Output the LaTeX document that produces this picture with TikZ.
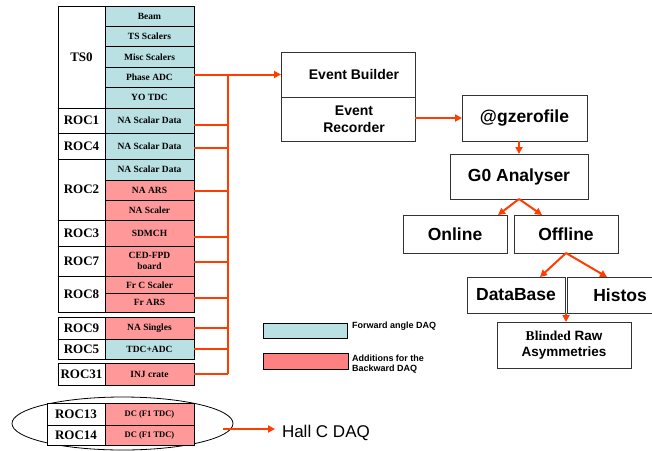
\documentclass[tikz,border=0pt]{standalone}
\usepackage{fontspec}
\setmainfont{Liberation Serif}
\setsansfont{Liberation Sans}
\usetikzlibrary{arrows.meta,shapes.geometric}

\definecolor{fwdcyan}{HTML}{B9E0E3}
\definecolor{bwdred}{HTML}{FF9999}
\definecolor{legred}{HTML}{FF8080}
\definecolor{wirered}{HTML}{FF3D00}

\newcommand\rocfont{\fontsize{13}{15}\selectfont\bfseries}
\newcommand\cellfont{\fontsize{9.5}{11}\selectfont\bfseries}
\newcommand\dcfont{\fontsize{8.5}{10}\selectfont\bfseries}
\newcommand\evfont{\sffamily\fontsize{14}{16.5}\selectfont\bfseries}
\newcommand\blfont{\sffamily\fontsize{13.5}{15.5}\selectfont\bfseries}
\newcommand\bigfont{\sffamily\fontsize{17.5}{20}\selectfont\bfseries}
\newcommand\legfont{\sffamily\fontsize{9}{10}\selectfont\bfseries}
% pushes a centred line a little to the right
\newcommand\nudge{\hspace*{12pt}}

\tikzset{
  every node/.style={inner sep=0pt, outer sep=0pt},
  roclab/.style={draw, line width=0.9pt, fill=white, font=\rocfont, minimum width=47},
  cell/.style={draw, line width=0.9pt, font=\cellfont, align=center, minimum width=89},
  fwd/.style={cell, fill=fwdcyan},
  bwd/.style={cell, fill=bwdred},
  swbox/.style={draw=black!80, line width=0.9pt, fill=white, align=center},
  wire/.style={draw=wirered, line width=2.2pt},
  arr/.style={draw=wirered, line width=2pt, -{Triangle[length=7pt,width=7pt]}},
}

\begin{document}
\begin{tikzpicture}[x=1pt, y=-1pt]
\useasboundingbox (0,0) rectangle (652,450);
\clip (0,0) rectangle (652,450);
\fill[white] (0,0) rectangle (652,450);

% crate labels
\node[roclab, minimum height=102] (ts0)   at (81.5,57)    {TS0};
\node[roclab, minimum height=25]  (roc1)  at (81.5,120.5) {ROC1};
\node[roclab, minimum height=26]  (roc4)  at (81.5,146)   {ROC4};
\node[roclab, minimum height=61]  (roc2)  at (81.5,189.5) {ROC2};
\node[roclab, minimum height=26]  (roc3)  at (81.5,233)   {ROC3};
\node[roclab, minimum height=30]  (roc7)  at (81.5,261)   {ROC7};
\node[roclab, minimum height=36]  (roc8)  at (81.5,294)   {ROC8};
\node[roclab, minimum height=22]  (roc9)  at (81.5,328)   {ROC9};
\node[roclab, minimum height=20]  (roc5)  at (81.5,349)   {ROC5};
\node[roclab, minimum height=22]  (roc31) at (81.5,374)   {ROC31};

% modules in each crate
\node[fwd, minimum height=20.4] (beam)  at (149.5,16.2)  {Beam};
\node[fwd, minimum height=20.4] (tss)   at (149.5,36.6)  {TS Scalers};
\node[fwd, minimum height=20.4] (misc)  at (149.5,57)    {Misc Scalers};
\node[fwd, minimum height=20.4] (pa)    at (149.5,77.4)  {Phase ADC};
\node[fwd, minimum height=20.4] (yo)    at (149.5,97.8)  {YO TDC};
\node[fwd, minimum height=25]   (nas1)  at (149.5,120.5) {NA Scalar Data};
\node[fwd, minimum height=26]   (nas4)  at (149.5,146)   {NA Scalar Data};
\node[fwd, minimum height=21]   (nas2)  at (149.5,169.5) {NA Scalar Data};
\node[bwd, minimum height=20]   (ars)   at (149.5,190)   {NA ARS};
\node[bwd, minimum height=20]   (nasc)  at (149.5,210)   {NA Scaler};
\node[bwd, minimum height=26]   (sdm)   at (149.5,233)   {SDMCH};
\node[bwd, minimum height=30]   (ced)   at (149.5,261)   {CED-FPD\\board};
\node[bwd, minimum height=17.5] (frc)   at (149.5,284.75){Fr C Scaler};
\node[bwd, minimum height=18.5] (frars) at (149.5,302.75){Fr ARS};
\node[bwd, minimum height=22]   (nasing) at (149.5,328)  {NA Singles};
\node[fwd, minimum height=20]   (tdc)   at (149.5,349)   {TDC+ADC};
\node[bwd, minimum height=22]   (inj)   at (149.5,374)   {INJ crate};

% event building chain
\node[swbox, font=\evfont, minimum width=134, minimum height=45] (eb) at (348,74.5) {\nudge Event Builder};
\node[swbox, font=\evfont, minimum width=134, minimum height=44] (er) at (348,119) {\nudge Event\\\nudge Recorder};
\node[swbox, font=\bigfont, minimum width=125, minimum height=46] (gz) at (524.5,118) {@gzerofile};
\node[swbox, font=\bigfont, minimum width=138, minimum height=45] (g0) at (519,176.5) {G0 Analyser};
\node[swbox, font=\bigfont, minimum width=104, minimum height=38] (online)  at (455,234) {Online};
\node[swbox, font=\bigfont, minimum width=104, minimum height=38] (offline) at (566,234) {Offline};
\node[swbox, font=\bigfont, minimum width=98,  minimum height=36] (db)     at (516,295) {DataBase};
\node[swbox, font=\bigfont, minimum width=106, minimum height=36] (histos) at (620,295) {Histos};
\node[swbox, font=\blfont, minimum width=134, minimum height=46] (blind) at (564,345)
  {{\rmfamily Blinded} Raw\\Asymmetries};

% readout bus
\coordinate (bus) at (228,0);
\draw[arr] (pa.east |- eb.west) -- (eb.west);
\draw[wire] (bus |- eb.west) -- (bus |- inj.east);
\foreach \n/\dy in {nas1/4.5, nas4/2, ars/1, sdm/4, ced/1, frars/-4.75, nasing/0, tdc/0, inj/0}
  \draw[wire] (\n.east) ++(0,\dy) coordinate (tap) -- (tap -| bus);

% data flow
\draw[arr] (er.east |- gz.west) -- (gz.west);
\draw[arr] (gz.south -| g0.north) -- (g0.north);
\draw[arr] (g0.south) -- ([xshift=-9pt]online.north east);
\draw[arr] (g0.south) -- ([xshift=28pt]offline.north west);
\draw[arr] (offline.south) -- ([xshift=24pt]db.north);
\draw[arr] (offline.south) -- ([xshift=-13pt]histos.north);
\draw[arr] ([xshift=1pt]db.south east) -- ([xshift=1pt]db.south east |- blind.north);

% legend
\node[draw, line width=0.9pt, fill=fwdcyan, minimum width=84, minimum height=15] (legf) at (305,330.5) {};
\node[draw, line width=0.9pt, fill=legred, minimum width=85, minimum height=16] (legb) at (305.5,361) {};
\node[font=\legfont, anchor=base west] (legft) at (352,328) {Forward angle DAQ};
\node[font=\legfont, anchor=north west, align=left] (legbt) at (352,354.5) {Additions for the\\Backward DAQ};

% Hall C crates
\node[draw, line width=0.8pt, ellipse, minimum width=221, minimum height=53] (ell) at (122.5,423.5) {};
\node[roclab, minimum width=58, minimum height=22] (roc13) at (76,414) {ROC13};
\node[roclab, minimum width=58, minimum height=20] (roc14) at (76,435) {ROC14};
\node[bwd, font=\dcfont, minimum height=22] (dc13) at (149.5,414) {DC (F1 TDC)};
\node[bwd, font=\dcfont, minimum height=20] (dc14) at (149.5,435) {DC (F1 TDC)};
\node[font=\sffamily\fontsize{17}{20}\selectfont, anchor=base west] (hallc) at (282,437) {Hall C DAQ};
\coordinate (hcs) at (223,429);
\draw[arr, shorten >=7pt] (hcs) -- (hcs -| hallc.west);
\end{tikzpicture}
\end{document}
